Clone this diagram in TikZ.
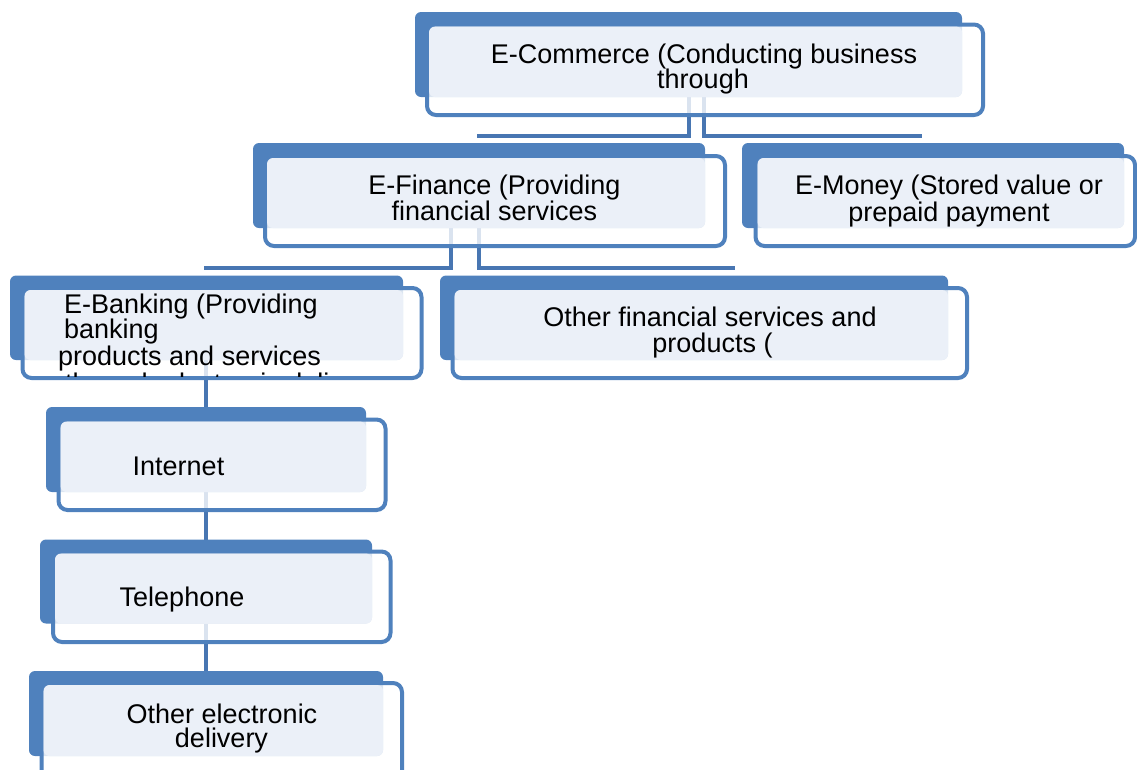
\documentclass[tikz,border=0pt]{standalone}
\usepackage{fontspec}
\setmainfont{Liberation Sans}
\definecolor{boxblue}{RGB}{79,129,189}
\definecolor{linkblue}{RGB}{72,118,178}
\definecolor{palefill}{RGB}{235,240,248}
\begin{document}
\begin{tikzpicture}[x=1pt,y=-1pt,
  backbox/.style={fill=boxblue, rounded corners=6pt, draw=none, inner sep=0pt, outer sep=0pt},
  frontbox/.style={draw=boxblue, line width=4pt, fill=white, fill opacity=0.8, draw opacity=1,
                   rounded corners=9pt, inner sep=0pt, outer sep=0pt},
  innerfill/.style={fill=palefill, rounded corners=6pt},
  link/.style={draw=linkblue, line width=3.5pt},
  label/.style={font=\fontsize{27}{31}\selectfont, inner sep=0pt, anchor=base, text=black}
]
\useasboundingbox (0,0) rectangle (1137,769);
\clip (0,0) rectangle (1137,769);

% box = back plate (B) + framed front card
\newcommand\tierbox[9]{%
  \node[backbox, minimum width={#4-#2}, minimum height={#5-#3}] (#1B) at ({(#2+#4)/2},{(#3+#5)/2}) {};
  \node[frontbox, minimum width={#8-#6}, minimum height={#9-#7}] (#1) at ({(#6+#8)/2},{(#7+#9)/2}) {};
  \path[innerfill] ([shift={(2,2)}]#1.north west) rectangle (#1B.south east);
}

% ---- connectors (drawn beneath the boxes)
\draw[link] (689,97) -- (689,136) -- (477,136);
\draw[link] (704,97) -- (704,136) -- (922,136);
\draw[link] (451,228) -- (451,268) -- (204,268);
\draw[link] (479,228) -- (479,268) -- (735,268);
\draw[link] (206,360) -- (206,407);
\draw[link] (206,492) -- (206,540);
\draw[link] (206,624) -- (206,672);

% ---- boxes
\tierbox{ecom}{415}{12}{962}{97}{427}{24.5}{983}{115}
\tierbox{efin}{253}{143}{705}{228}{265}{156}{725}{246}
\tierbox{emon}{742}{143}{1124}{228}{755.5}{156}{1135}{246}
\tierbox{ebank}{10}{275.5}{403}{360}{22.5}{288}{421.5}{378}
\tierbox{ofin}{440}{275.5}{948}{360}{452.5}{288}{967}{378}
\tierbox{inet}{46}{407}{366}{492}{58.5}{419.5}{385.5}{510}
\tierbox{tel}{40}{539.5}{372}{623.5}{53}{551.5}{390.5}{642}
\tierbox{oed}{29}{671}{383}{756}{41.5}{683}{402}{795}

% ---- texts
\node[label] (ecomT1) at (704,63.5) {E-Commerce (Conducting business};
\node[label] (ecomT2) at (703,88.5) {through};
\node[label] (efinT1) at (494.5,194) {E-Finance (Providing};
\node[label] (efinT2) at (494.5,220) {financial services};
\node[label] (emonT1) at (949,194) {E-Money (Stored value or};
\node[label] (emonT2) at (949,221) {prepaid payment};
\node[label, anchor=base west] (ebankT1) at (64,313) {E-Banking (Providing};
\node[label, anchor=base west] (ebankT2) at (64,338.5) {banking};
\node[label, anchor=base west] (ebankT3) at (58,365) {products and services};
\begin{scope}
  \clip ([shift={(2,2)}]ebank.north west) rectangle ([shift={(-2,-2)}]ebank.south east);
  \node[label, anchor=base west] (ebankT4) at (65,392) {through electronic delivery};
\end{scope}
\node[label] (ofinT1) at (710,326) {Other financial services and};
\node[label] (ofinT2) at (712.5,352) {products (};
\node[label, anchor=base west] (inetT) at (132.5,475) {Internet};
\node[label, anchor=base west] (telT) at (119.5,606.5) {Telephone};
\node[label] (oedT1) at (222,723) {Other electronic};
\node[label] (oedT2) at (221.5,747) {delivery};
\end{tikzpicture}
\end{document}
